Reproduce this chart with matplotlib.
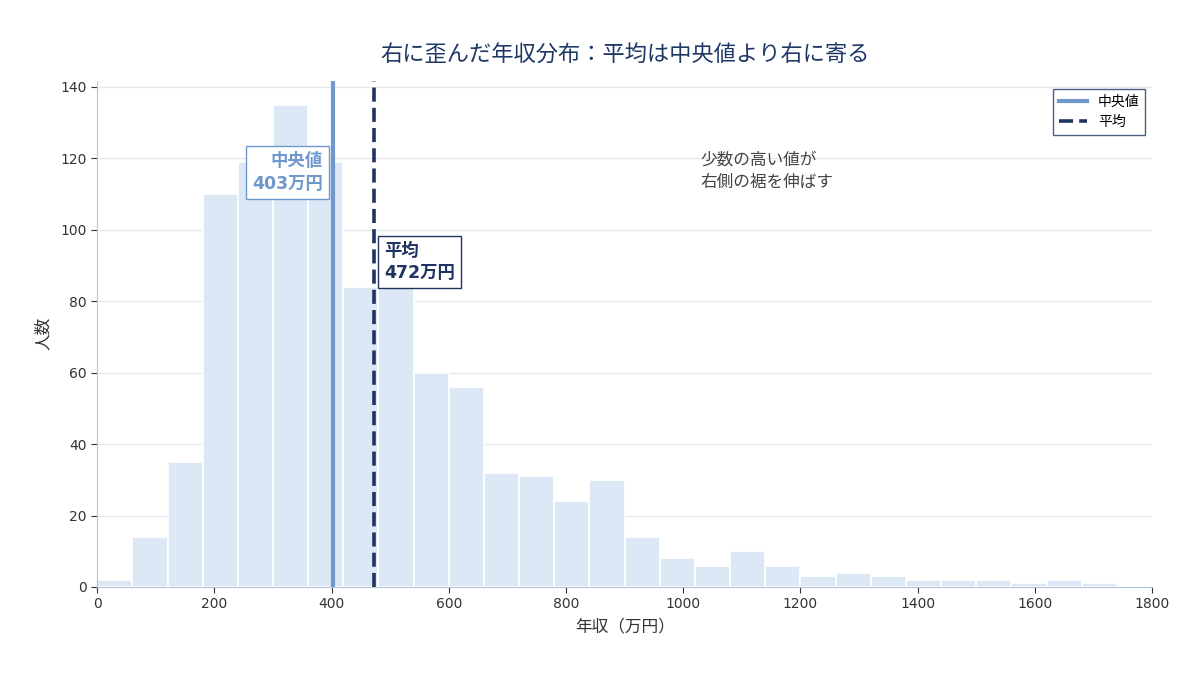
import numpy as np
import matplotlib.pyplot as plt

plt.rcParams['font.family'] = ['DejaVu Sans', 'Noto Sans CJK JP']

# histogram data (bins of 60万円)
bin_edges = np.arange(0, 1801, 60)
counts = [2, 14, 35, 110, 119, 135, 119, 84, 86, 60,
          56, 32, 31, 24, 30, 14, 8, 6, 10, 6,
          3, 4, 3, 2, 2, 2, 1, 2, 1, 0]
median_val = 403
mean_val = 472

c_bar = '#dce8f5'
c_med = '#6f98cc'
c_mean = '#1f3460'
c_title = '#1f3864'

fig = plt.figure(figsize=(12, 6.75), dpi=100)
ax = fig.add_axes([0.081, 0.1304, 0.879, 0.750])

ax.bar(bin_edges[:-1], counts, width=60, align='edge', color=c_bar,
       edgecolor='white', linewidth=1.2, zorder=2)

ax.axvline(median_val, color=c_med, lw=3, zorder=3, label='中央値')
ax.axvline(mean_val, color=c_mean, lw=2.6, ls=(0, (3.9, 1.7)), zorder=3, label='平均')

ax.text(median_val - 18, 116, f'中央値\n{median_val}万円', ha='right', va='center',
        fontsize=12.5, fontweight='bold', color=c_med, linespacing=1.3,
        bbox=dict(boxstyle='square,pad=0.35', fc='white', ec=c_med, lw=1), zorder=5)
ax.text(mean_val + 18, 91, f'平均\n{mean_val}万円', ha='left', va='center',
        fontsize=12.5, fontweight='bold', color=c_mean, linespacing=1.3,
        bbox=dict(boxstyle='square,pad=0.35', fc='white', ec=c_mean, lw=1), zorder=5)

ax.text(1029, 116.5, '少数の高い値が\n右側の裾を伸ばす', ha='left', va='center',
        fontsize=12, color='#444444', linespacing=1.3)

ax.set_xlim(0, 1800)
ax.set_ylim(0, 141.7)
ax.set_xticks(np.arange(0, 1801, 200))
ax.set_yticks(np.arange(0, 141, 20))
ax.grid(axis='y', color='#e6e8ef', lw=1, zorder=0)
ax.set_axisbelow(True)

for s in ['top', 'right']:
    ax.spines[s].set_visible(False)
for s in ['left', 'bottom']:
    ax.spines[s].set_color('#b4c3d8')
ax.tick_params(colors='#333333', labelsize=10, length=4)

ax.set_xlabel('年収（万円）', fontsize=12, color='#333333', labelpad=4)
ax.set_ylabel('人数', fontsize=12, color='#333333', labelpad=6)
ax.set_title('右に歪んだ年収分布：平均は中央値より右に寄る', fontsize=16,
             color=c_title, pad=14)

leg = ax.legend(loc='upper right', fontsize=10, frameon=True, fancybox=False,
                edgecolor=c_mean, borderpad=0.4, handlelength=2.0,
                bbox_to_anchor=(0.9934, 0.984), borderaxespad=0)
leg.get_frame().set_linewidth(1)

fig.savefig('out.png', dpi=100)
